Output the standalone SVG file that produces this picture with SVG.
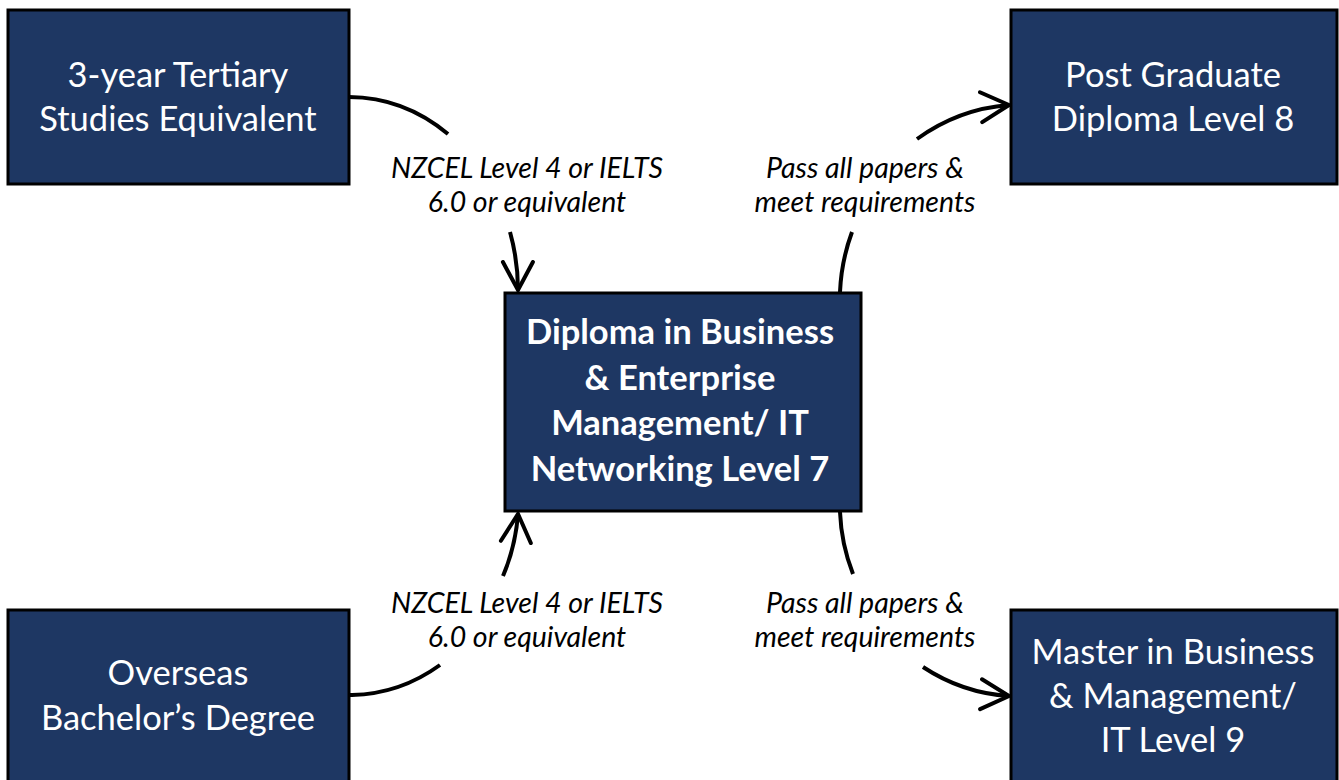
<svg xmlns="http://www.w3.org/2000/svg" width="1339" height="780" viewBox="0 0 1339 780">
  <style>
    .box { fill: #1e3763; stroke: #000; stroke-width: 3; }
    .t { font-family: Lato, "Open Sans", "Liberation Sans", sans-serif; fill: #fff; font-size: 34.5px; text-anchor: middle; }
    .tb { font-family: Lato, "Open Sans", "Liberation Sans", sans-serif; fill: #fff; font-size: 34.5px; font-weight: bold; text-anchor: middle; }
    .lbl { font-family: Lato, "Open Sans", "Liberation Sans", sans-serif; fill: #000; font-size: 28.5px; font-style: italic; text-anchor: middle; }
    .conn { fill: none; stroke: #000; stroke-width: 4; }
  </style>
  <defs>
    <marker id="arrow" markerUnits="userSpaceOnUse" markerWidth="40" markerHeight="40" refX="30" refY="16" orient="auto" viewBox="0 0 40 32">
      <path d="M2,1 L30,16 L2,31" fill="none" stroke="#000" stroke-width="4" stroke-linecap="round" stroke-linejoin="miter"/>
    </marker>
  </defs>

  <rect width="1339" height="780" fill="#fff"/>

  <!-- connectors: each curve is interrupted where its label sits -->
  <g id="connectors">
    <!-- 3-year Tertiary -> Diploma Level 7 -->
    <path class="conn" d="M349,97 A169,193 0 0 1 448,134"/>
    <path class="conn" d="M510,232 A169,193 0 0 1 518,290" marker-end="url(#arrow)"/>
    <!-- Diploma Level 7 -> Post Graduate -->
    <path class="conn" d="M840,292 A185,192 0 0 1 852,232"/>
    <path class="conn" d="M917,139 A185,192 0 0 1 1009,105" marker-end="url(#arrow)"/>
    <!-- Overseas Bachelor -> Diploma Level 7 -->
    <path class="conn" d="M349,695 L352,695 A166,183 0 0 0 440,665"/>
    <path class="conn" d="M503,576 A166,183 0 0 0 518,514" marker-end="url(#arrow)"/>
    <!-- Diploma Level 7 -> Master -->
    <path class="conn" d="M840,512 A180,186 0 0 0 853,574"/>
    <path class="conn" d="M923,667 A180,186 0 0 0 1009,696" marker-end="url(#arrow)"/>
  </g>

  <g id="labels">
    <text class="lbl" x="527" y="178">NZCEL Level 4 or IELTS</text>
    <text class="lbl" x="527" y="212">6.0 or equivalent</text>
    <text class="lbl" x="865" y="178">Pass all papers &amp;</text>
    <text class="lbl" x="865" y="212">meet requirements</text>
    <text class="lbl" x="527" y="613">NZCEL Level 4 or IELTS</text>
    <text class="lbl" x="527" y="647">6.0 or equivalent</text>
    <text class="lbl" x="865" y="613">Pass all papers &amp;</text>
    <text class="lbl" x="865" y="647">meet requirements</text>
  </g>

  <g id="tertiary">
    <rect class="box" x="8" y="10" width="341" height="174"/>
    <text class="t" x="178" y="87">3-year Tertiary</text>
    <text class="t" x="178" y="131">Studies Equivalent</text>
  </g>

  <g id="postgrad">
    <rect class="box" x="1011" y="10" width="326" height="174"/>
    <text class="t" x="1173" y="87">Post Graduate</text>
    <text class="t" x="1173" y="131">Diploma Level 8</text>
  </g>

  <g id="diploma">
    <rect class="box" x="505" y="293" width="356" height="218"/>
    <text class="tb" x="680" y="344">Diploma in Business</text>
    <text class="tb" x="680" y="390">&amp; Enterprise</text>
    <text class="tb" x="680" y="435">Management/ IT</text>
    <text class="tb" x="680" y="481">Networking Level 7</text>
  </g>

  <g id="overseas">
    <rect class="box" x="8" y="610" width="341" height="180"/>
    <text class="t" x="178" y="685">Overseas</text>
    <text class="t" x="178" y="730">Bachelor’s Degree</text>
  </g>

  <g id="master">
    <rect class="box" x="1011" y="610" width="326" height="180"/>
    <text class="t" x="1173" y="664">Master in Business</text>
    <text class="t" x="1173" y="708">&amp; Management/</text>
    <text class="t" x="1173" y="752">IT Level 9</text>
  </g>
</svg>
